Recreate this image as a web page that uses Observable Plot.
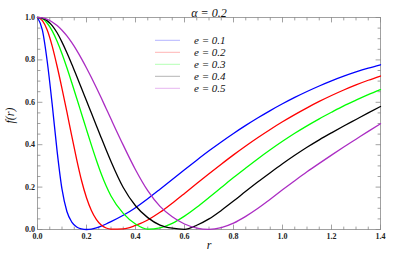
<!DOCTYPE html>
<html><head><meta charset="utf-8">
<script src="https://cdn.jsdelivr.net/npm/d3@7"></script>
<script src="https://cdn.jsdelivr.net/npm/@observablehq/plot@0.6"></script>
<style>
body{margin:0;background:#fff}
#wrap{position:relative;width:415px;height:260px}
</style>
</head><body><div id="wrap"></div>
<script>
// ---- data ----
const title = "α = 0.2";
const seriesNames = ["e = 0.1", "e = 0.2", "e = 0.3", "e = 0.4", "e = 0.5"];
const r = [0,0.02,0.04,0.06,0.08,0.10,0.12,0.14,0.16,0.18,0.20,0.22,0.24,0.26,0.28,0.30,
  0.35,0.40,0.45,0.50,0.55,0.60,0.65,0.70,0.75,0.80,0.85,0.90,0.95,1.00,1.05,1.10,1.15,1.20,1.25,1.30,1.35,1.40];
const fE1 = [1,.94,.79,.59,.37,.19,.085,.035,.012,.003,0,.002,.008,.016,.026,.037,
  .067,.103,.145,.190,.236,.282,.327,.371,.413,.453,.491,.527,.561,.593,.623,.651,.677,.701,.723,.743,.761,.777];
const fE2 = [1,.985,.94,.865,.77,.665,.555,.44,.33,.23,.15,.09,.048,.021,.007,.002,
  .003,.019,.045,.081,.124,.170,.217,.263,.308,.352,.394,.434,.472,.508,.542,.574,.604,.632,.658,.682,.704,.724];
const fE3 = [1,.994,.973,.937,.888,.829,.763,.692,.619,.545,.471,.398,.328,.263,.206,.158,
  .076,.026,.002,.008,.029,.063,.105,.151,.198,.245,.290,.334,.376,.416,.454,.489,.522,.553,.583,.610,.636,.660];
const fE4 = [1,.996,.984,.962,.928,.884,.834,.780,.723,.665,.607,.549,.491,.433,.376,.321,
  .198,.112,.056,.021,.006,.001,.02,.05,.09,.134,.18,.225,.268,.31,.35,.388,.423,.456,.488,.519,.55,.58];
const fE5 = [1,.998,.991,.979,.962,.940,.913,.881,.845,.805,.762,.717,.670,.621,.571,.521,
  .398,.282,.183,.109,.060,.026,.007,.001,.009,.03,.062,.1,.143,.187,.23,.272,.312,.351,.389,.426,.463,.499];
const xTicks = [0, 0.2, 0.4, 0.6, 0.8, 1.0, 1.2, 1.4];
const yTicks = [0, 0.2, 0.4, 0.6, 0.8, 1.0];

// ---- styles ----
const colors = ["#0000ff", "#ff0000", "#00ff00", "#000000", "#ab2dc3"];
const legendColors = ["#b4b4ff", "#ffb4b4", "#b4ffb4", "#b4b4b4", "#e6b6f0"];
const serif = "Liberation Serif, Times New Roman, serif";
const frameColor = "#8a8a8a";

const series = [fE1, fE2, fE3, fE4, fE5];
const rows = series.flatMap((fs, k) => r.map((rv, i) => ({r: rv, f: fs[i], s: seriesNames[k]})));

const xMinor = d3.range(0, 1.4001, 0.05);
const yMinor = d3.range(0, 1.0001, 0.05);
const isMajor = (v, step) => Math.abs(v / step - Math.round(v / step)) < 1e-6;
const tickShape = {draw(ctx, l) { ctx.moveTo(0, 0); ctx.lineTo(0, -l); }};
const tickMarks = (vals, ch, anchor, rot, step) => Plot.vector(vals, {
  [ch]: d => d, frameAnchor: anchor, rotate: rot, anchor: "start", shape: tickShape,
  length: d => isMajor(d, step) ? 4.5 : 2.5, stroke: frameColor, strokeWidth: 0.8
});

const chart = Plot.plot({
  width: 415, height: 260,
  marginLeft: 37, marginRight: 35, marginTop: 17, marginBottom: 31,
  style: {background: "#fff", fontFamily: serif},
  x: {domain: [0, 1.4], label: null},
  y: {domain: [0, 1], label: null},
  length: {type: "identity"},
  color: {domain: seriesNames, range: colors},
  marks: [
    Plot.frame({stroke: frameColor, strokeWidth: 0.8}),
    tickMarks(xMinor, "x", "bottom", 0, 0.2),
    tickMarks(xMinor, "x", "top", 180, 0.2),
    tickMarks(yMinor, "y", "left", 90, 0.2),
    tickMarks(yMinor, "y", "right", -90, 0.2),
    Plot.axisX(xTicks, {tickSize: 0, tickPadding: 4, tickFormat: d3.format(".1f"),
      fontWeight: "bold", fontSize: 8, fontFamily: serif, fill: "#222", label: null}),
    Plot.axisY(yTicks, {tickSize: 0, tickPadding: 2.5, tickFormat: d3.format(".1f"),
      fontWeight: "bold", fontSize: 8, fontFamily: serif, fill: "#222", label: null}),
    Plot.line(rows, {x: "r", y: "f", z: "s", stroke: "s", strokeWidth: 1.3, curve: "monotone-x"}),
    Plot.text([title], {frameAnchor: "top", dy: -9, fontSize: 12, fontStyle: "italic", fontFamily: serif, fill: "#111"}),
    Plot.text(["r"], {frameAnchor: "bottom", dy: 19, fontSize: 12, fontStyle: "italic", fontFamily: serif, fill: "#111"}),
    Plot.text(["f(r)"], {frameAnchor: "left", dx: -27, rotate: -90, fontSize: 12, fontStyle: "italic", fontFamily: serif, fill: "#111"})
  ]
});
document.getElementById("wrap").appendChild(chart);

// ---- legend (inside the plot area, upper middle) ----
const svg = d3.select(chart);
const lg = svg.append("g").attr("transform", "translate(155,40.3)");
seriesNames.forEach((name, i) => {
  const g = lg.append("g").attr("transform", `translate(0,${i * 12})`);
  g.append("line").attr("x1", 0).attr("x2", 25).attr("y1", 0).attr("y2", 0)
    .attr("stroke", legendColors[i]).attr("stroke-width", 1);
  g.append("text").attr("x", 39).attr("y", 0).attr("dy", "0.32em")
    .attr("text-anchor", "start")
    .attr("font-family", serif).attr("font-style", "italic").attr("font-size", 11)
    .attr("fill", "#111").text(name);
});
</script></body></html>
